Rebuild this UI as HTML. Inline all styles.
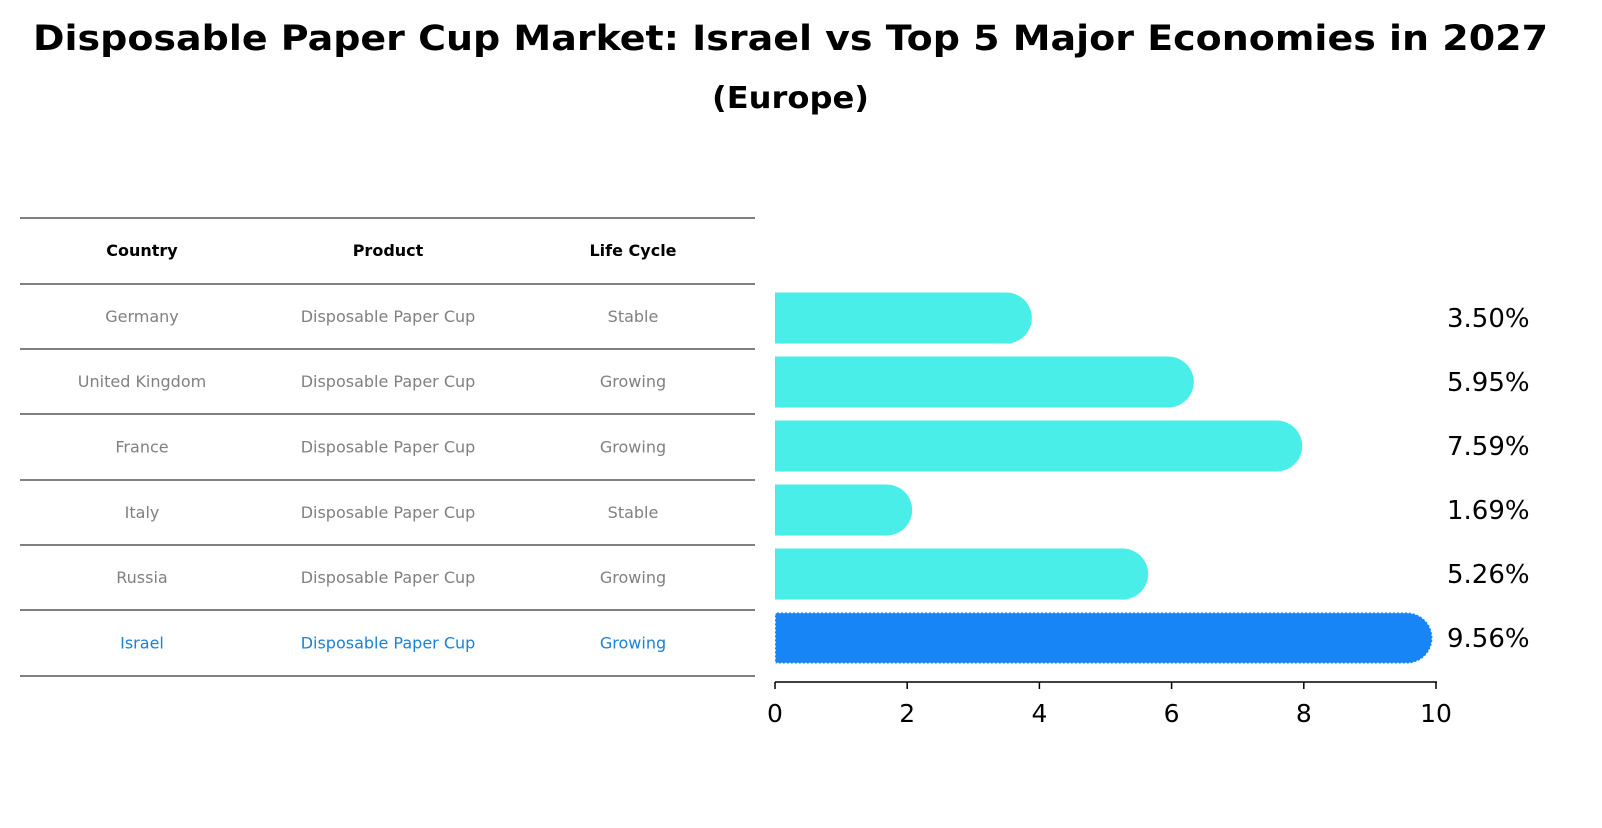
<!DOCTYPE html>
<html><head><meta charset="utf-8"><style>
body{margin:0;background:#fff;font-family:"Liberation Sans","DejaVu Sans",sans-serif;}
svg text{font-family:"DejaVu Sans","Liberation Sans",sans-serif;}
</style></head><body>
<svg id="c" width="1602" height="823" viewBox="0 0 1602 823">
<text x="33" y="50" font-size="35" font-weight="bold" textLength="1515" lengthAdjust="spacingAndGlyphs">Disposable Paper Cup Market: Israel vs Top 5 Major Economies in 2027</text>
<text x="712" y="108" font-size="30" font-weight="bold" textLength="157" lengthAdjust="spacingAndGlyphs">(Europe)</text>
<g id="table"></g>
<g id="bars"></g>
</svg>
<script>
const countries=["Germany","United Kingdom","France","Italy","Russia","Israel"];
const products=["Disposable Paper Cup","Disposable Paper Cup","Disposable Paper Cup","Disposable Paper Cup","Disposable Paper Cup","Disposable Paper Cup"];
const lifeCycles=["Stable","Growing","Growing","Stable","Growing","Growing"];
const values=[3.50,5.95,7.59,1.69,5.26,9.56];
const ticks=[0,2,4,6,8,10];
const NS="http://www.w3.org/2000/svg";
function mk(tag,attrs,parent,txt){const e=document.createElementNS(NS,tag);for(const k in attrs)e.setAttribute(k,attrs[k]);if(txt!==undefined)e.textContent=txt;parent.appendChild(e);return e;}
const tbl=document.getElementById('table');
const lineYs=[218,284,349,414,480,545,610,676];
lineYs.forEach(y=>{const l=mk('line',{x1:20,x2:755,y1:y,y2:y,stroke:'#000','stroke-width':1},tbl);

});
const colX=[142,388,633];
["Country","Product","Life Cycle"].forEach((h,i)=>{const t=mk('text',{x:colX[i],y:256,'text-anchor':'middle','font-size':16,'font-weight':'bold'},tbl,h);

});
countries.forEach((c,r)=>{const y=(lineYs[r+1]+lineYs[r+2])/2+5.5;const col=c==="Israel"?"#1a82d8":"#808080";
[c,products[r],lifeCycles[r]].forEach((v,i)=>{const t=mk('text',{x:colX[i],y:y,'text-anchor':'middle','font-size':16,fill:col},tbl,v);

});});
const g=document.getElementById('bars');
const x0=775,xs=66.1;const X=v=>x0+v*xs;
const rowY=r=>318+r*64;const bh=51,rad=25.5;
values.forEach((v,r)=>{const isr=countries[r]==="Israel";const yc=rowY(r);const top=yc-bh/2;const xe=X(v);
const d=`M${x0},${top} H${xe} A${rad},${rad} 0 0 1 ${xe},${top+bh} H${x0} Z`;
const p=mk('path',{d:d,fill:isr?'#1785f5':'#4aeee9',stroke:isr?'#ffffff':'none','stroke-width':isr?1.5:0,'stroke-dasharray':isr?'2 2':'none'},g);


const t=mk('text',{x:1447,y:yc+9,'font-size':26},g,v.toFixed(2)+'%');

});
const ax=mk('line',{x1:x0,x2:X(10)+1,y1:682,y2:682,stroke:'#000','stroke-width':1.5},g);


ticks.forEach(tk=>{const l=mk('line',{x1:X(tk),x2:X(tk),y1:682,y2:689,stroke:'#000','stroke-width':1.5},g);


const t=mk('text',{x:X(tk),y:722,'text-anchor':'middle','font-size':25},g,tk);

});
</script>
</body></html>
